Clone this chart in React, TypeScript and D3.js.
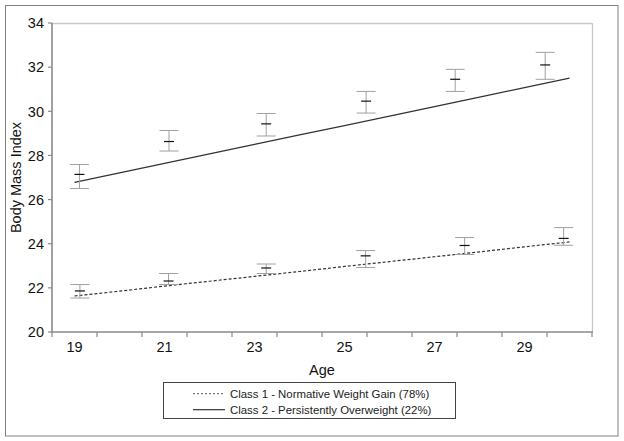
import React from "react";
import * as d3 from "d3";

const lineAges = [19, 20, 21, 22, 23, 24, 25, 26, 27, 28, 29, 30];
const class1Line = [21.63, 21.85, 22.08, 22.3, 22.52, 22.74, 22.97, 23.19, 23.41, 23.63, 23.86, 24.08];
const class2Line = [26.78, 27.21, 27.64, 28.07, 28.5, 28.93, 29.35, 29.78, 30.21, 30.64, 31.07, 31.5];

const class1Ages = [19.12, 21.09, 23.26, 25.47, 27.67, 29.87];
const class1Mean = [21.86, 22.31, 22.9, 23.45, 23.92, 24.24];
const class1Low = [21.54, 22.15, 22.65, 22.92, 23.51, 23.93];
const class1High = [22.15, 22.65, 23.08, 23.69, 24.28, 24.73];

const class2Ages = [19.11, 21.1, 23.26, 25.48, 27.46, 29.46];
const class2Mean = [27.14, 28.63, 29.43, 30.46, 31.45, 32.1];
const class2Low = [26.5, 28.2, 28.88, 29.92, 30.9, 31.45];
const class2High = [27.59, 29.13, 29.9, 30.9, 31.9, 32.67];

const yTicks = [20, 22, 24, 26, 28, 30, 32, 34];
const xLabels = [19, 21, 23, 25, 27, 29];
const xBoundaries = [18.5, 19.5, 20.5, 21.5, 22.5, 23.5, 24.5, 25.5, 26.5, 27.5, 28.5, 29.5, 30.5];

const legendLabels = [
  "Class 1 - Normative Weight Gain (78%)",
  "Class 2 - Persistently Overweight (22%)",
];

export default function App() {
  const W = 624;
  const H = 441;
  const left = 52, right = 592, top = 23, bottom = 332;
  const x = d3.scaleLinear().domain([18.5, 30.5]).range([left, right]);
  const y = d3.scaleLinear().domain([20, 34]).range([bottom, top]);
  const font = "'Liberation Sans', Arial, sans-serif";

  const line = d3
    .line<number>()
    .x((_, i) => x(lineAges[i]))
    .y((d) => y(d));

  const bars = (ages: number[], mean: number[], low: number[], high: number[], key: string) =>
    ages.map((a, i) => {
      const cx = x(a);
      return (
        <g key={key + i}>
          <line x1={cx} x2={cx} y1={y(low[i])} y2={y(high[i])} stroke="#a0a0a0" strokeWidth={1} />
          <line x1={cx - 9.5} x2={cx + 9.5} y1={y(low[i])} y2={y(low[i])} stroke="#a0a0a0" strokeWidth={1} />
          <line x1={cx - 9.5} x2={cx + 9.5} y1={y(high[i])} y2={y(high[i])} stroke="#a0a0a0" strokeWidth={1} />
          <line x1={cx - 5} x2={cx + 5} y1={y(mean[i])} y2={y(mean[i])} stroke="#111" strokeWidth={1.2} />
        </g>
      );
    });

  return (
    <svg width={W} height={H} style={{ position: "absolute", left: 0, top: 0, background: "#fff" }} fontFamily={font}>
      <rect x={0} y={0} width={W} height={H} fill="#fff" />
      <rect x={5.5} y={5.5} width={612.5} height={430.5} fill="none" stroke="#808080" strokeWidth={1} />
      {/* plot frame */}
      <line x1={left} x2={right} y1={top + 0.5} y2={top + 0.5} stroke="#c8c8c8" strokeWidth={1.3} />
      <line x1={right + 0.5} x2={right + 0.5} y1={top} y2={bottom} stroke="#c8c8c8" strokeWidth={1.3} />
      {/* y axis */}
      <line x1={left} x2={left} y1={top} y2={bottom + 1} stroke="#8a8a8a" strokeWidth={1.6} />
      {yTicks.map((t) => (
        <g key={"yt" + t}>
          <line x1={left - 4} x2={left} y1={y(t)} y2={y(t)} stroke="#8a8a8a" strokeWidth={1.2} />
          <text x={44} y={y(t)} dy="0.36em" textAnchor="end" fontSize={14.5} fill="#111">
            {t}
          </text>
        </g>
      ))}
      {/* x axis */}
      <line x1={left} x2={right + 1} y1={bottom} y2={bottom} stroke="#8a8a8a" strokeWidth={1.6} />
      {xBoundaries.map((b) => (
        <line key={"xb" + b} x1={x(b)} x2={x(b)} y1={bottom} y2={bottom + 5} stroke="#8a8a8a" strokeWidth={1.2} />
      ))}
      {xLabels.map((l) => (
        <text key={"xl" + l} x={x(l)} y={352} textAnchor="middle" fontSize={14.5} fill="#111">
          {l}
        </text>
      ))}
      <text x={(left + right) / 2} y={374.5} textAnchor="middle" fontSize={14.5} fill="#111">
        Age
      </text>
      <text
        transform={`translate(20.5, ${(top + bottom) / 2}) rotate(-90)`}
        textAnchor="middle"
        fontSize={14.5}
        fill="#111"
      >
        Body Mass Index
      </text>

      {/* lines */}
      <path d={line(class2Line) || ""} fill="none" stroke="#333" strokeWidth={1.2} />
      <path d={line(class1Line) || ""} fill="none" stroke="#333" strokeWidth={1.2} strokeDasharray="3,2" />

      {bars(class2Ages, class2Mean, class2Low, class2High, "c2")}
      {bars(class1Ages, class1Mean, class1Low, class1High, "c1")}

      {/* legend */}
      <rect x={163.5} y={382.5} width={292} height={36} fill="#fff" stroke="#444" strokeWidth={1} />
      <line x1={193} x2={225} y1={393.7} y2={393.7} stroke="#555" strokeWidth={1} strokeDasharray="2,2" />
      <line x1={193} x2={225} y1={409.7} y2={409.7} stroke="#333" strokeWidth={1.2} />
      <text x={230} y={393.7} dy="0.36em" fontSize={11.4} fill="#222">
        {legendLabels[0]}
      </text>
      <text x={230} y={409.7} dy="0.36em" fontSize={11.4} fill="#222">
        {legendLabels[1]}
      </text>
    </svg>
  );
}
